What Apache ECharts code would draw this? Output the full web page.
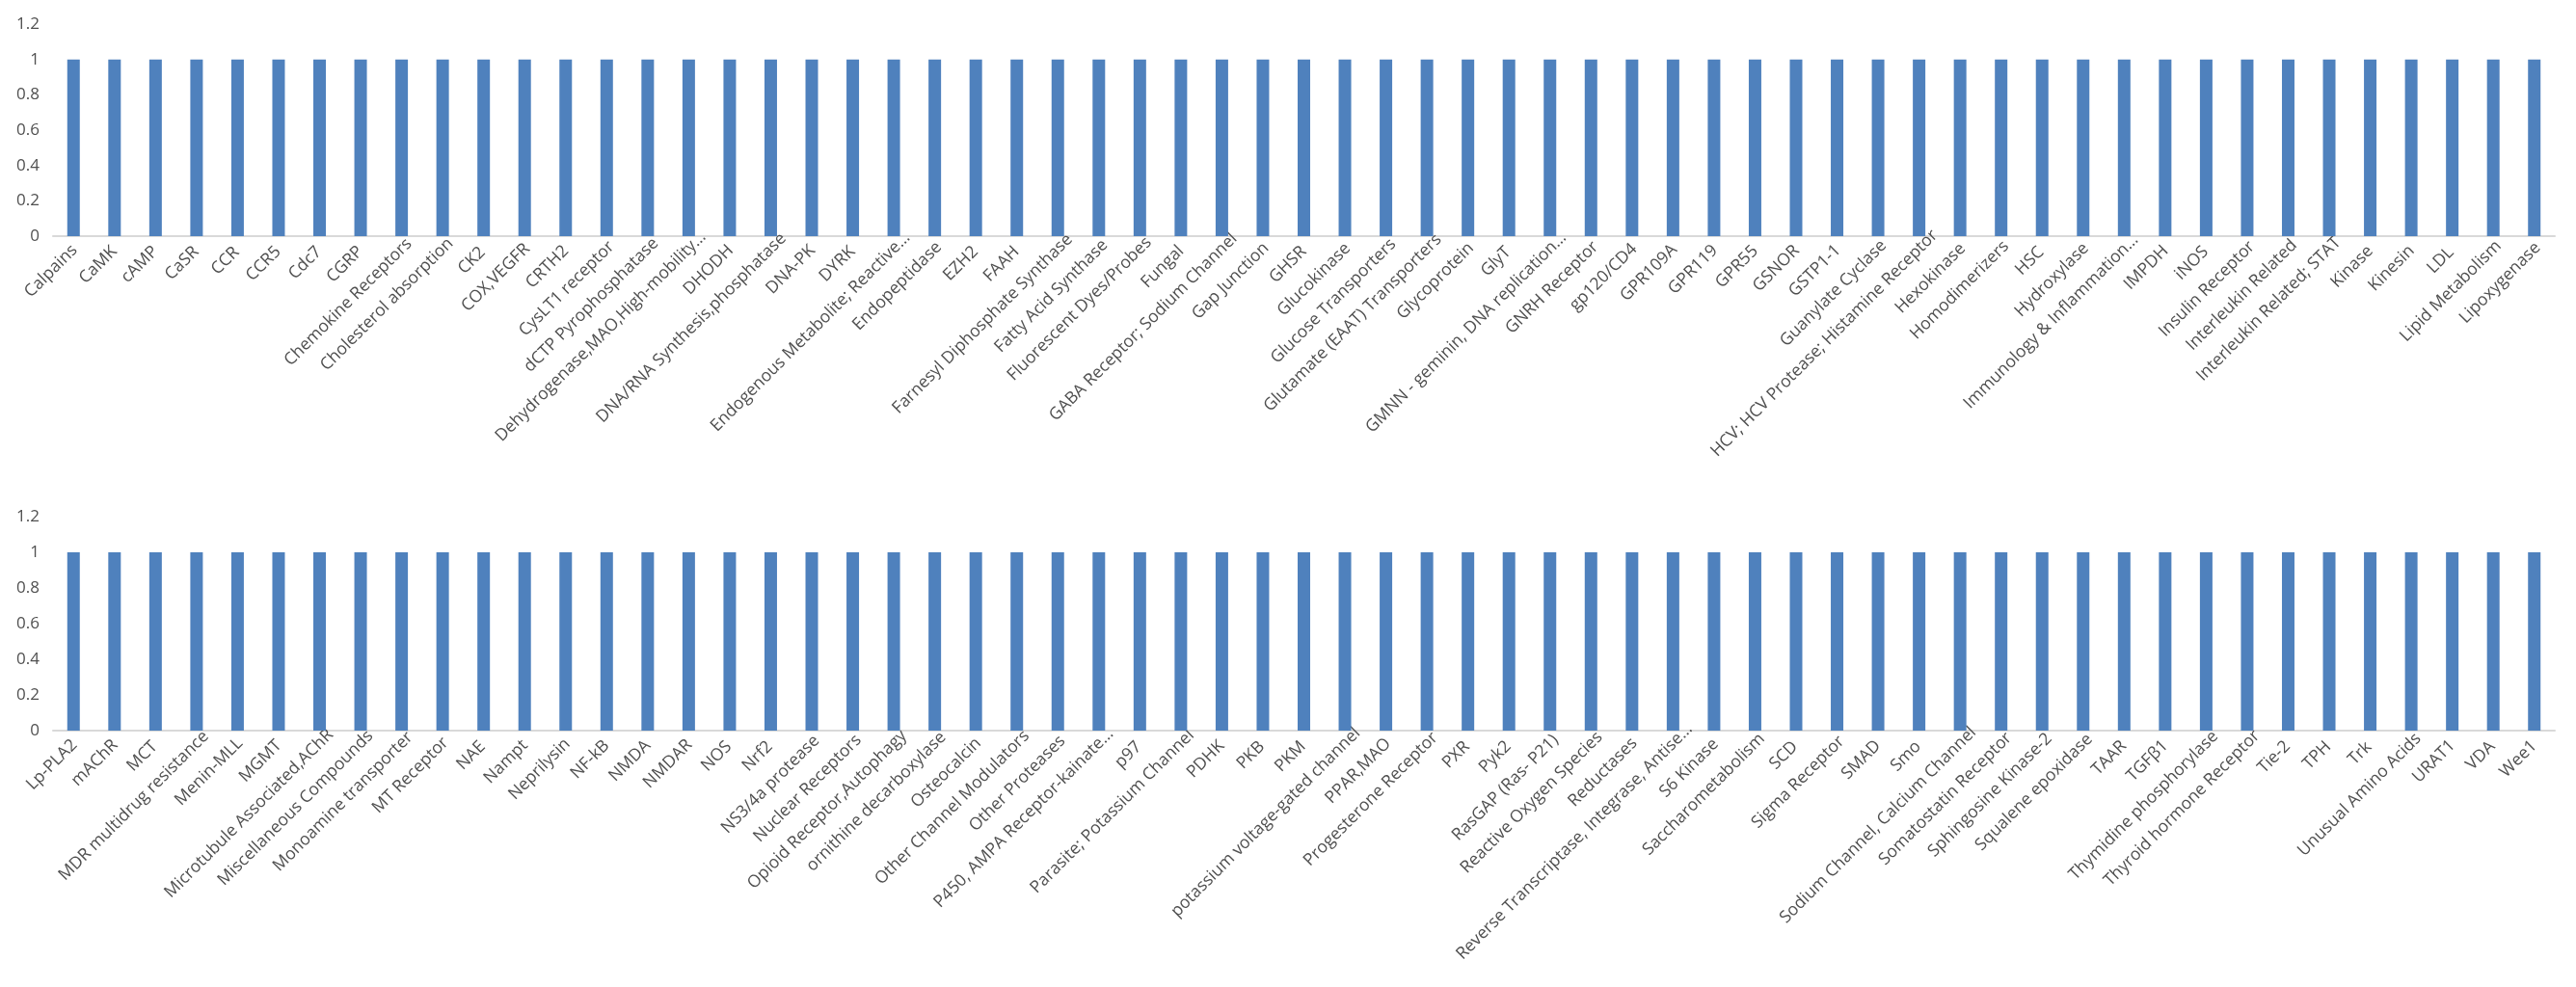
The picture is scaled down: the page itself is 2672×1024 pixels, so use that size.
<!DOCTYPE html>
<html>
<head>
<meta charset="utf-8">
<script src="https://cdn.jsdelivr.net/npm/echarts@6/dist/echarts.min.js"></script>
<style>
html,body{margin:0;padding:0;background:#fff;}
#chart{width:2672px;height:1024px;}
</style>
</head>
<body>
<div id="chart"></div>
<script>
const categoriesTop = ["Calpains","CaMK","cAMP","CaSR","CCR","CCR5","Cdc7","CGRP","Chemokine Receptors","Cholesterol absorption","CK2","COX,VEGFR","CRTH2","CysLT1 receptor","dCTP Pyrophosphatase","Dehydrogenase,MAO,High-mobility…","DHODH","DNA/RNA Synthesis,phosphatase","DNA-PK","DYRK","Endogenous Metabolite; Reactive…","Endopeptidase","EZH2","FAAH","Farnesyl Diphosphate Synthase","Fatty Acid Synthase","Fluorescent Dyes/Probes","Fungal","GABA Receptor; Sodium Channel","Gap Junction","GHSR","Glucokinase","Glucose Transporters","Glutamate (EAAT) Transporters","Glycoprotein","GlyT","GMNN - geminin, DNA replication…","GNRH Receptor","gp120/CD4","GPR109A","GPR119","GPR55","GSNOR","GSTP1-1","Guanylate Cyclase","HCV; HCV Protease; Histamine Receptor","Hexokinase","Homodimerizers","HSC","Hydroxylase","Immunology & Inflammation…","IMPDH","iNOS","Insulin Receptor","Interleukin Related","Interleukin Related; STAT","Kinase","Kinesin","LDL","Lipid Metabolism","Lipoxygenase"];
const valuesTop = [1,1,1,1,1,1,1,1,1,1,1,1,1,1,1,1,1,1,1,1,1,1,1,1,1,1,1,1,1,1,1,1,1,1,1,1,1,1,1,1,1,1,1,1,1,1,1,1,1,1,1,1,1,1,1,1,1,1,1,1,1];
const categoriesBottom = ["Lp-PLA2","mAChR","MCT","MDR multidrug resistance","Menin-MLL","MGMT","Microtubule Associated,AChR","Miscellaneous Compounds","Monoamine transporter","MT Receptor","NAE","Nampt","Neprilysin","NF-kB","NMDA","NMDAR","NOS","Nrf2","NS3/4a protease","Nuclear Receptors","Opioid Receptor,Autophagy","ornithine decarboxylase","Osteocalcin","Other Channel Modulators","Other Proteases","P450, AMPA Receptor-kainate…","p97","Parasite; Potassium Channel","PDHK","PKB","PKM","potassium voltage-gated channel","PPAR,MAO","Progesterone Receptor","PXR","Pyk2","RasGAP (Ras- P21)","Reactive Oxygen Species","Reductases","Reverse Transcriptase, Integrase, Antise…","S6 Kinase","Saccharometabolism","SCD","Sigma Receptor","SMAD","Smo","Sodium Channel, Calcium Channel","Somatostatin Receptor","Sphingosine Kinase-2","Squalene epoxidase","TAAR","TGFβ1","Thymidine phosphorylase","Thyroid hormone Receptor","Tie-2","TPH","Trk","Unusual Amino Acids","URAT1","VDA","Wee1"];
const valuesBottom = [1,1,1,1,1,1,1,1,1,1,1,1,1,1,1,1,1,1,1,1,1,1,1,1,1,1,1,1,1,1,1,1,1,1,1,1,1,1,1,1,1,1,1,1,1,1,1,1,1,1,1,1,1,1,1,1,1,1,1,1,1];
const yTicks = {min: 0, max: 1.2, interval: 0.2};

const FONT = "'Open Sans', 'Liberation Sans', sans-serif";
const LABEL_SIZE = 17.5;
const TXT = '#505050';

// Excel shifts long rotated labels slightly to the right; emulate by a length-based nudge
const mctx = document.createElement('canvas').getContext('2d');
mctx.font = LABEL_SIZE + "px 'Open Sans'";
function catItems(cats) {
  return cats.map(name => {
    const L = mctx.measureText(name).width;
    const D = 0.12 * L - 3;
    const s = (D - 3) / 1.414;
    return {value: name, textStyle: {padding: [s, -s, 0, 0]}};
  });
}

const chart = echarts.init(document.getElementById('chart'), null, {renderer: 'canvas'});

function xAxis(idx, cats) {
  return {
    type: 'category', gridIndex: idx, data: catItems(cats),
    axisLine: {show: true, lineStyle: {color: '#d9d9d9', width: 2}},
    axisTick: {show: false},
    axisLabel: {interval: 0, rotate: 45, color: TXT, fontFamily: FONT, fontSize: LABEL_SIZE,
      margin: 13, hideOverlap: false, align: 'right', verticalAlign: 'top'},
    splitLine: {show: false}
  };
}
function yAxis(idx) {
  return {
    type: 'value', gridIndex: idx, min: yTicks.min, max: yTicks.max, interval: yTicks.interval,
    axisLine: {show: false}, axisTick: {show: false}, splitLine: {show: false},
    axisLabel: {color: TXT, fontFamily: FONT, fontSize: 17, margin: 14,
      formatter: v => String(+v.toFixed(1))}
  };
}

chart.setOption({
  animation: false,
  backgroundColor: '#fff',
  grid: [
    {left: 55, right: 22, top: 25, height: 220},
    {left: 55, right: 22, top: 536, height: 222}
  ],
  xAxis: [xAxis(0, categoriesTop), xAxis(1, categoriesBottom)],
  yAxis: [yAxis(0), yAxis(1)],
  series: [
    {type: 'bar', xAxisIndex: 0, yAxisIndex: 0, data: valuesTop, barWidth: 13, itemStyle: {color: '#4f81bd'}},
    {type: 'bar', xAxisIndex: 1, yAxisIndex: 1, data: valuesBottom, barWidth: 13, itemStyle: {color: '#4f81bd'}}
  ]
});
</script>
</body>
</html>
